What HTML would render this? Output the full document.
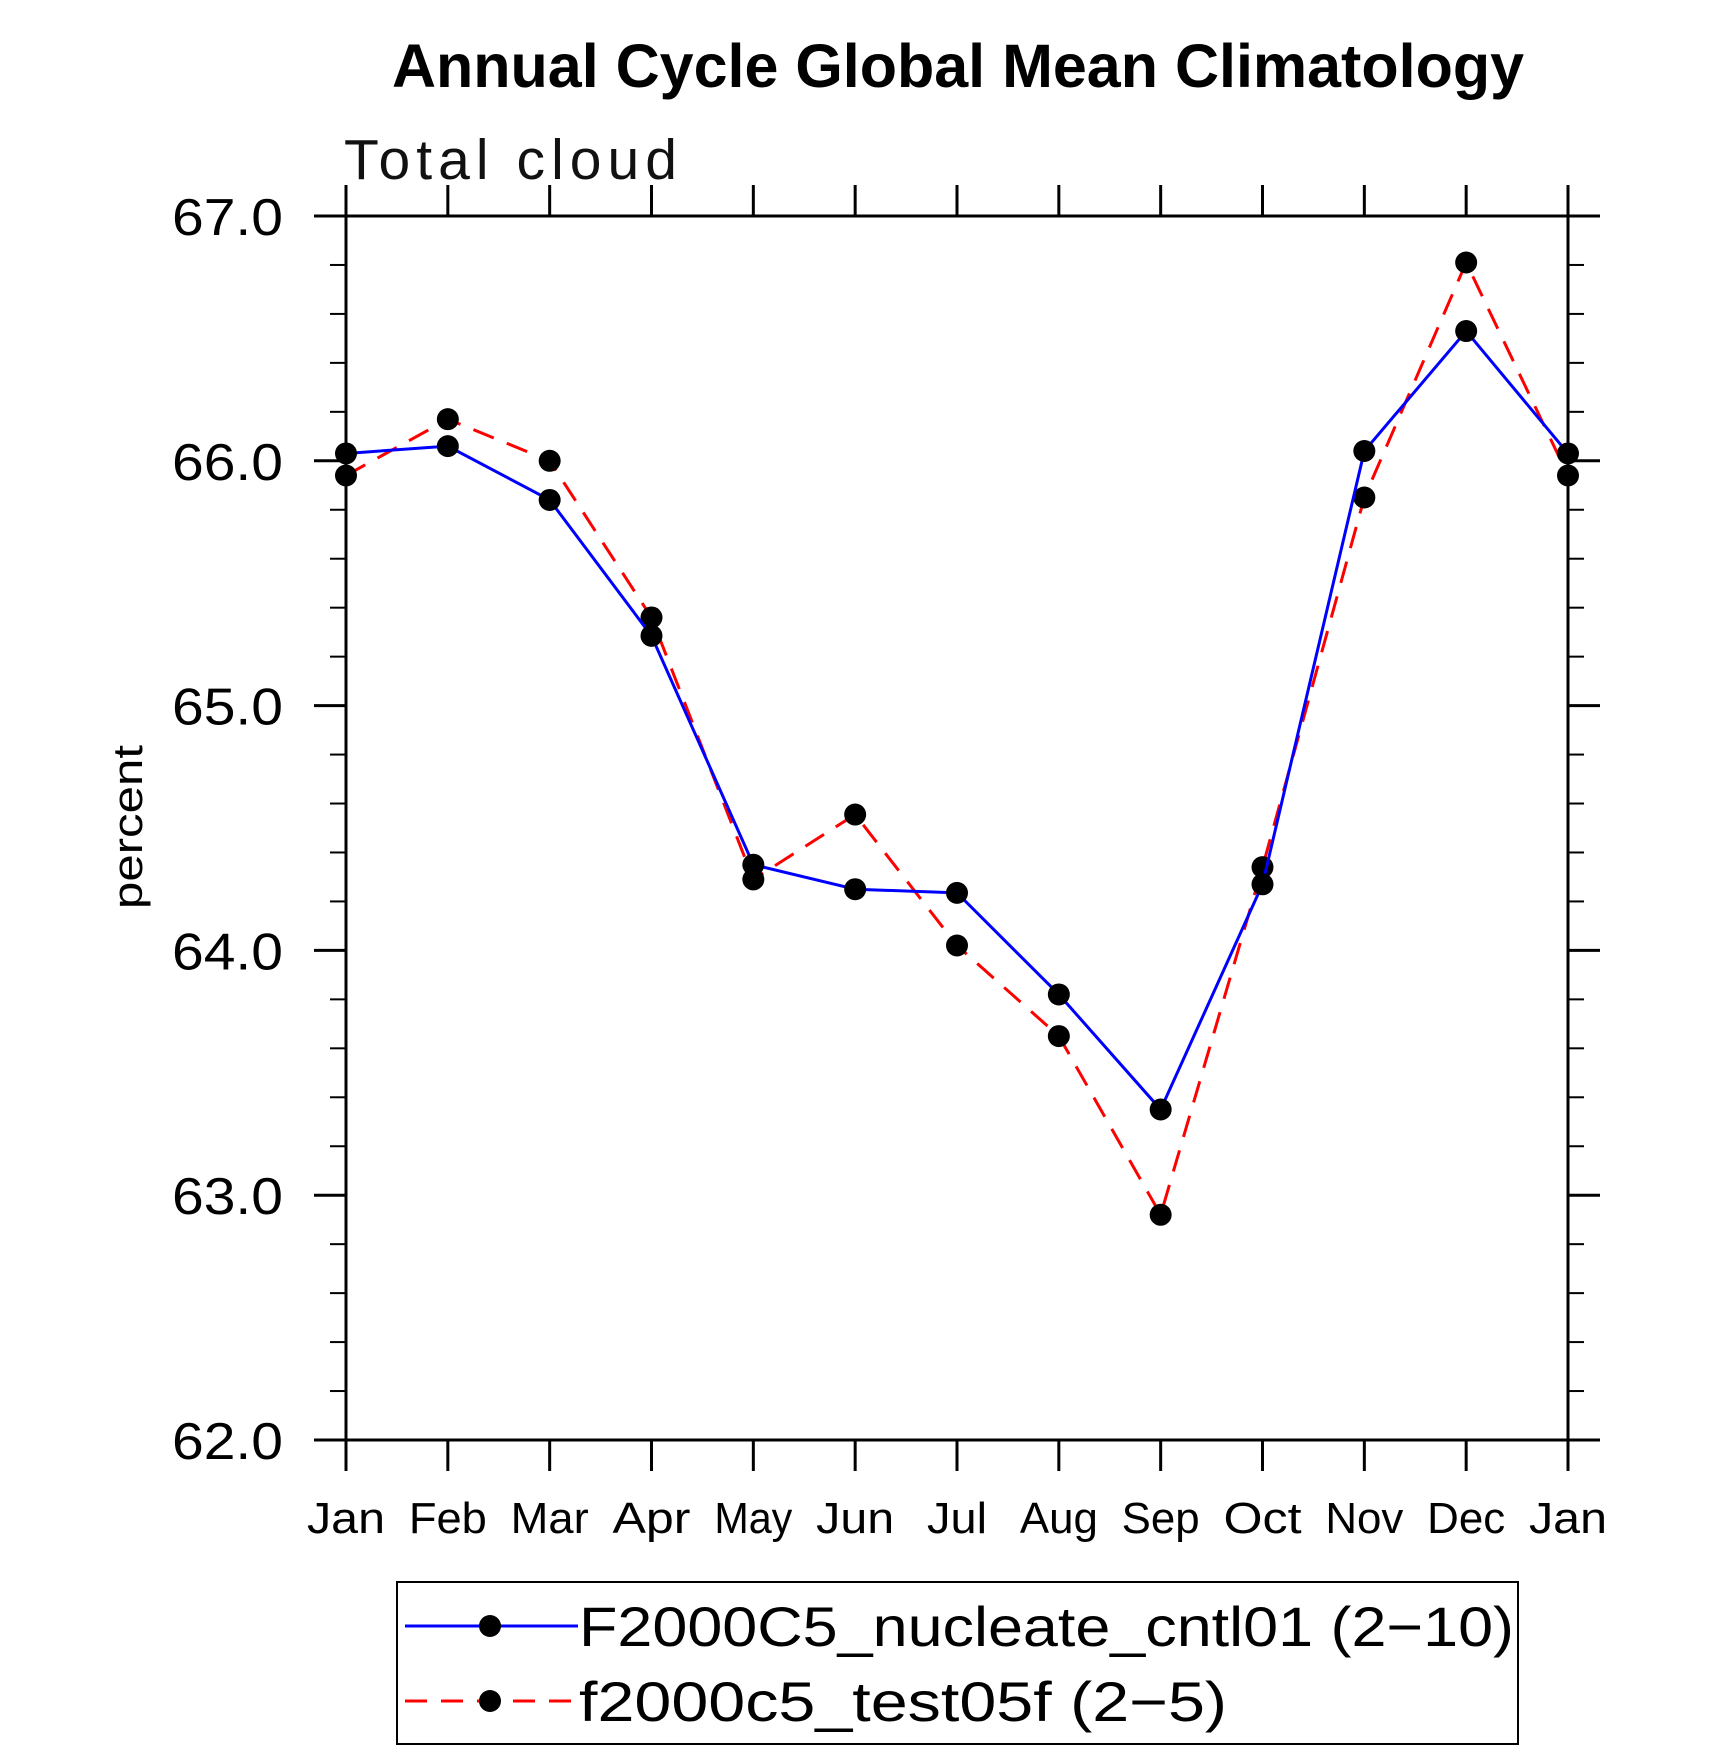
<!DOCTYPE html>
<html><head><meta charset="utf-8"><style>
body{margin:0;background:#fff;}
svg text{font-family:"Liberation Sans",sans-serif;}
</style></head><body>
<svg id="chart" width="1710" height="1751" viewBox="0 0 1710 1751" xmlns="http://www.w3.org/2000/svg">
<text x="958" y="87" font-size="61" font-weight="bold" text-anchor="middle">Annual Cycle Global Mean Climatology</text>
<text x="344" y="179" font-size="57" font-weight="300" fill="#111" textLength="333">Total cloud</text>
<text transform="translate(142,827) rotate(-90)" font-size="42" text-anchor="middle" textLength="164" lengthAdjust="spacingAndGlyphs">percent</text>
<g id="axes"></g>
<g id="series"></g>
<g>
<rect x="397" y="1582" width="1121" height="162" fill="none" stroke="#000" stroke-width="2"/>
<line x1="405" y1="1626" x2="578" y2="1626" stroke="#0000ff" stroke-width="3"/>
<circle cx="490" cy="1626" r="11"/>
<text x="579" y="1646" font-size="56" textLength="935" lengthAdjust="spacingAndGlyphs">F2000C5_nucleate_cntl01 (2−10)</text>
<line x1="405" y1="1701" x2="578" y2="1701" stroke="#ff0000" stroke-width="3" stroke-dasharray="22,14"/>
<circle cx="490" cy="1701" r="11"/>
<text x="579" y="1721" font-size="56" textLength="648" lengthAdjust="spacingAndGlyphs">f2000c5_test05f (2−5)</text>
</g>
</svg>
<script>
const months=["Jan","Feb","Mar","Apr","May","Jun","Jul","Aug","Sep","Oct","Nov","Dec","Jan"];
const cntlValues=[66.03,66.06,65.84,65.285,64.35,64.25,64.235,63.82,63.35,64.27,66.04,66.53,66.03];
const testValues=[65.94,66.17,66.0,65.36,64.29,64.555,64.02,63.65,62.92,64.34,65.85,66.81,65.94];
const yTicks=[62,63,64,65,66,67];
const yLabels=["62.0","63.0","64.0","65.0","66.0","67.0"];
const L=346,R=1568,T=216,B=1440,ymin=62,ymax=67;
const xs=i=>L+(R-L)*i/(months.length-1);
const ys=v=>B-(v-ymin)/(ymax-ymin)*(B-T);
const NS="http://www.w3.org/2000/svg";
function mk(tag,attrs,parent){const e=document.createElementNS(NS,tag);for(const k in attrs)e.setAttribute(k,attrs[k]);parent.appendChild(e);return e;}
const ax=document.getElementById('axes');
const frame=mk('rect',{x:L,y:T,width:R-L,height:B-T,fill:'none',stroke:'#000','stroke-width':3},ax);


for(let v=ymin;v<=ymax+1e-9;v+=0.2){
  const major=Math.abs(v-Math.round(v))<1e-6;const len=major?32:16;const y=ys(v);
  mk('line',{x1:L-len,y1:y,x2:L,y2:y,stroke:'#000','stroke-width':major?3:2},ax);
  mk('line',{x1:R,y1:y,x2:R+len,y2:y,stroke:'#000','stroke-width':major?3:2},ax);
}
yTicks.forEach((v,i)=>{
  const t=mk('text',{x:283,y:ys(v)+19,'font-size':52,'text-anchor':'end','font-weight':'300',textLength:111,lengthAdjust:'spacingAndGlyphs'},ax);
  t.textContent=yLabels[i];
  
  
});
months.forEach((m,i)=>{
  const x=xs(i);
  mk('line',{x1:x,y1:T-31,x2:x,y2:T,stroke:'#000','stroke-width':3},ax);
  mk('line',{x1:x,y1:B,x2:x,y2:B+31,stroke:'#000','stroke-width':3},ax);
  const t=mk('text',{x:x,y:1533,'font-size':44,'text-anchor':'middle','font-weight':'300',textLength:(m==='Jul'?60:78),lengthAdjust:'spacingAndGlyphs'},ax);
  t.textContent=m;
  
  
});
const sg=document.getElementById('series');
function series(vals,color,dash,name){
  const pts=vals.map((v,i)=>xs(i)+','+ys(v)).join(' ');
  const p=mk('polyline',{points:pts,fill:'none',stroke:color,'stroke-width':3,'stroke-dasharray':dash},sg);
  
  
  vals.forEach((v,i)=>{
    const c=mk('circle',{cx:xs(i),cy:ys(v),r:11,fill:'#000'},sg);
    
    
  });
}
series(testValues,'#ff0000','22,14','test05f');
series(cntlValues,'#0000ff','none','cntl01');
</script>
</body></html>
